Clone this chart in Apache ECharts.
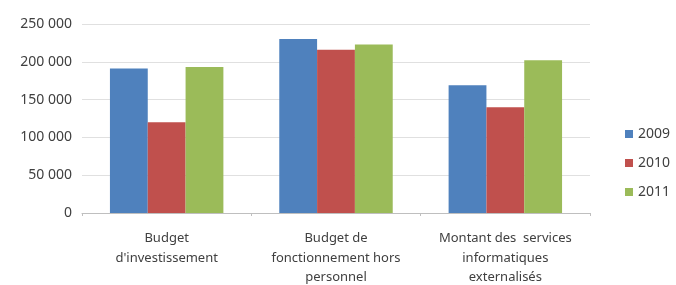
<!DOCTYPE html>
<html><head><meta charset="utf-8">
<script src="https://cdn.jsdelivr.net/npm/echarts@6/dist/echarts.min.js"></script>
<style>html,body{margin:0;padding:0;background:#fff}#c{width:676px;height:285px}</style>
</head><body><div id="c"></div>
<script>
const categories = ["Budget\nd'investissement", "Budget de\nfonctionnement hors\npersonnel", "Montant des  services\ninformatiques\nexternalisés"];
const seriesNames = ["2009", "2010", "2011"];
const v2009 = [191000, 230000, 169000];
const v2010 = [120000, 216000, 140000];
const v2011 = [193000, 223000, 202000];
const colors = ["#4f81bd", "#c0504d", "#9bbb59"];
const values = [v2009, v2010, v2011];
const font = "'Noto Sans', sans-serif";
const chart = echarts.init(document.getElementById('c'));
chart.setOption({
  animation: false,
  grid: {left: 82, right: 86, top: 24, bottom: 72, outerBoundsMode: 'none', containLabel: false},
  legend: {
    orient: 'vertical', left: 620, top: 122, itemWidth: 8, itemHeight: 8, itemGap: 15,
    icon: 'rect', textStyle: {fontFamily: font, fontSize: 14, color: '#404040'},
    data: seriesNames
  },
  xAxis: {
    type: 'category', data: categories,
    axisLine: {lineStyle: {color: '#bfbfbf'}},
    axisTick: {show: true, lineStyle: {color: '#bfbfbf'}, length: 3},
    axisLabel: {fontFamily: font, fontSize: 13, color: '#404040', lineHeight: 19.5, margin: 16, interval: 0}
  },
  yAxis: {
    type: 'value', min: 0, max: 250000, interval: 50000,
    axisLine: {show: false}, axisTick: {show: false},
    splitLine: {lineStyle: {color: '#e0e0e0'}},
    axisLabel: {fontFamily: font, fontSize: 14, color: '#404040', margin: 10,
      formatter: v => v === 0 ? '0' : String(v).replace(/\B(?=(\d{3})+(?!\d))/g, ' ')}
  },
  series: seriesNames.map((n, i) => ({
    name: n, type: 'bar', data: values[i], barGap: '0%', barCategoryGap: '33%',
    itemStyle: {color: colors[i]}
  }))
});
</script></body></html>
